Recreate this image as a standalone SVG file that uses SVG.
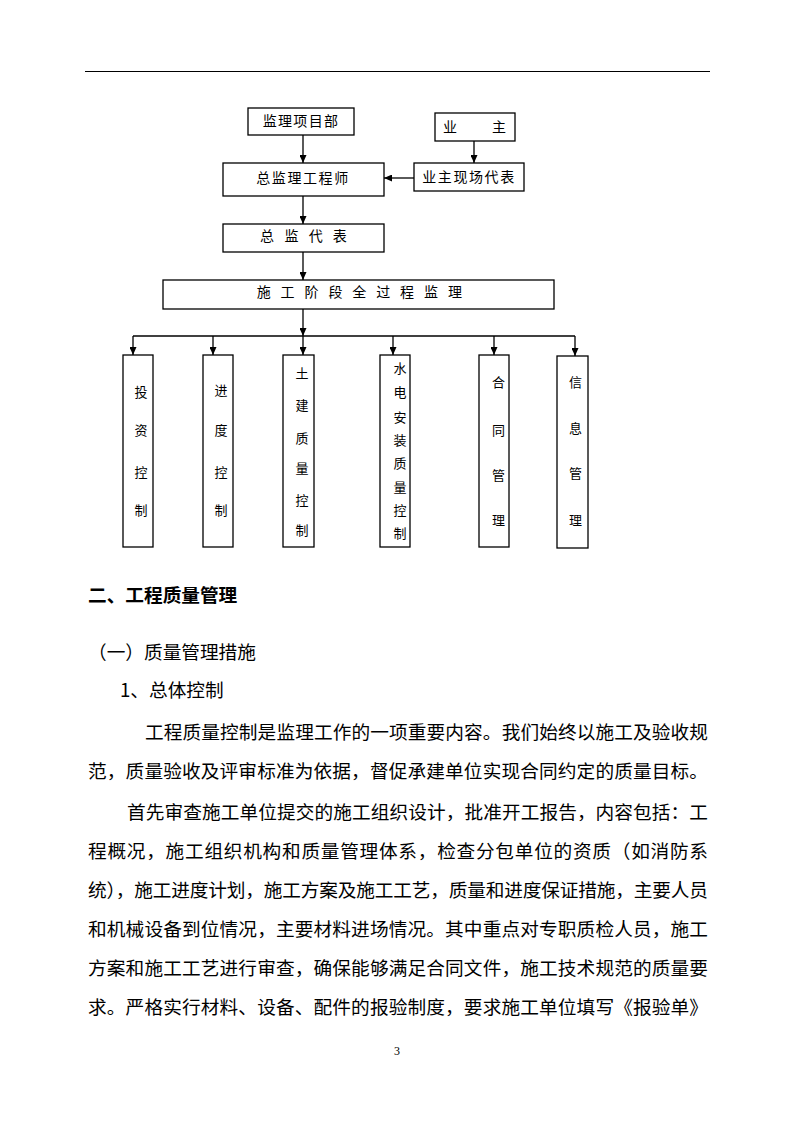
<svg xmlns="http://www.w3.org/2000/svg" width="794" height="1123" viewBox="0 0 794 1123">
<style>
.bx{fill:#fff;stroke:#000;stroke-width:1.3}
.ln{fill:none;stroke:#000;stroke-width:1.3}
.t{font-family:"Noto Sans CJK SC","Noto Sans",sans-serif;font-size:14px;fill:#000}
.tv{font-family:"Noto Sans CJK SC","Noto Sans",sans-serif;font-size:13px;fill:#000;text-anchor:middle}
.body{font-family:"Noto Sans CJK SC","Noto Sans",sans-serif;font-size:18.67px;fill:#000}
.h{font-family:"Noto Sans CJK SC","Noto Sans",sans-serif;font-size:18.67px;font-weight:bold;fill:#000}
.pn{font-family:"Liberation Serif",serif;font-size:12px;fill:#000;text-anchor:middle}
</style>
<defs>
<marker id="arr" markerUnits="userSpaceOnUse" markerWidth="8" markerHeight="7" refX="8" refY="3.5" orient="auto">
<path d="M0,0 L8,3.5 L0,7 z" fill="#000"/>
</marker>
</defs>
<rect width="794" height="1123" fill="#fff"/>
<line x1="85" y1="71.5" x2="710" y2="71.5" stroke="#000" stroke-width="1.2"/>

<g id="connectors">
<line class="ln" x1="303" y1="135" x2="303" y2="163" marker-end="url(#arr)"/>
<line class="ln" x1="474" y1="141" x2="474" y2="163" marker-end="url(#arr)"/>
<line class="ln" x1="414" y1="178" x2="384" y2="178" marker-end="url(#arr)"/>
<line class="ln" x1="303" y1="196" x2="303" y2="224" marker-end="url(#arr)"/>
<line class="ln" x1="303" y1="252" x2="303" y2="280" marker-end="url(#arr)"/>
<line class="ln" x1="303" y1="309" x2="303" y2="336" marker-end="url(#arr)"/>
<line class="ln" x1="133" y1="336" x2="575" y2="336"/>
<line class="ln" x1="133" y1="336" x2="133" y2="355" marker-end="url(#arr)"/>
<line class="ln" x1="213" y1="336" x2="213" y2="355" marker-end="url(#arr)"/>
<line class="ln" x1="303" y1="336" x2="303" y2="355" marker-end="url(#arr)"/>
<line class="ln" x1="393" y1="336" x2="393" y2="355" marker-end="url(#arr)"/>
<line class="ln" x1="494" y1="336" x2="494" y2="355" marker-end="url(#arr)"/>
<line class="ln" x1="575" y1="336" x2="575" y2="356" marker-end="url(#arr)"/>
</g>

<g id="n-jlxmb">
<rect class="bx" x="248" y="108" width="106" height="27"/>
<text class="t" x="301" y="126" text-anchor="middle" letter-spacing="1.3">监理项目部</text>
</g>
<g id="n-yz">
<rect class="bx" x="435" y="113" width="80" height="28"/>
<text class="t" x="443 492" y="132">业主</text>
</g>
<g id="n-zjlgcs">
<rect class="bx" x="223" y="163" width="161" height="33"/>
<text class="t" x="303" y="183" text-anchor="middle" letter-spacing="1.6">总监理工程师</text>
</g>
<g id="n-yzxcdb">
<rect class="bx" x="414" y="163" width="110" height="28"/>
<text class="t" x="469" y="182" text-anchor="middle" letter-spacing="1.6">业主现场代表</text>
</g>
<g id="n-zjdb">
<rect class="bx" x="223" y="224" width="161" height="28"/>
<text class="t" x="260 284.5 308.7 332.8" y="241">总监代表</text>
</g>
<g id="n-sgjd">
<rect class="bx" x="163" y="280" width="391" height="29"/>
<text class="t" x="256.7 280.6 304.5 328.4 352.3 376.2 400.1 424 447.9" y="297">施工阶段全过程监理</text>
</g>
<g id="n-tzkz">
<rect class="bx" x="123" y="355" width="30" height="192"/>
<text class="tv" x="141" y="397">投</text><text class="tv" x="141" y="435">资</text><text class="tv" x="141" y="477">控</text><text class="tv" x="141" y="515">制</text>
</g>
<g id="n-jdkz">
<rect class="bx" x="203" y="355" width="30" height="192"/>
<text class="tv" x="221" y="395">进</text><text class="tv" x="221" y="435">度</text><text class="tv" x="221" y="477">控</text><text class="tv" x="221" y="515">制</text>
</g>
<g id="n-tjzl">
<rect class="bx" x="283" y="355" width="31" height="192"/>
<text class="tv" x="302" y="378">土</text><text class="tv" x="302" y="410">建</text><text class="tv" x="302" y="443">质</text><text class="tv" x="302" y="473">量</text><text class="tv" x="302" y="505">控</text><text class="tv" x="302" y="535">制</text>
</g>
<g id="n-sdaz">
<rect class="bx" x="380" y="355" width="30" height="192"/>
<text class="tv" x="400" y="373">水</text><text class="tv" x="400" y="397">电</text><text class="tv" x="400" y="422">安</text><text class="tv" x="400" y="445">装</text><text class="tv" x="400" y="468">质</text><text class="tv" x="400" y="492">量</text><text class="tv" x="400" y="515">控</text><text class="tv" x="400" y="538">制</text>
</g>
<g id="n-htgl">
<rect class="bx" x="479" y="355" width="30" height="192"/>
<text class="tv" x="498.5" y="387">合</text><text class="tv" x="498.5" y="435">同</text><text class="tv" x="498.5" y="480">管</text><text class="tv" x="498.5" y="525">理</text>
</g>
<g id="n-xxgl">
<rect class="bx" x="557" y="356" width="31" height="192"/>
<text class="tv" x="575.5" y="387">信</text><text class="tv" x="575.5" y="433">息</text><text class="tv" x="575.5" y="478">管</text><text class="tv" x="575.5" y="525">理</text>
</g>

<g id="body">
<text class="h" x="88" y="602">二、工程质量管理</text>
<text class="body" x="88" y="659">（一）质量管理措施</text>
<text class="body" x="120" y="697">1、总体控制</text>
<text class="body" x="145" y="739" textLength="563" lengthAdjust="spacing">工程质量控制是监理工作的一项重要内容。我们始终以施工及验收规</text>
<text class="body" x="88" y="778" textLength="620" lengthAdjust="spacing">范，质量验收及评审标准为依据，督促承建单位实现合同约定的质量目标。</text>
<text class="body" x="127" y="819" textLength="581" lengthAdjust="spacing">首先审查施工单位提交的施工组织设计，批准开工报告，内容包括：工</text>
<text class="body" x="88" y="858" textLength="620" lengthAdjust="spacing">程概况，施工组织机构和质量管理体系，检查分包单位的资质（如消防系</text>
<text class="body" x="88" y="897" textLength="620" lengthAdjust="spacing">统），施工进度计划，施工方案及施工工艺，质量和进度保证措施，主要人员</text>
<text class="body" x="88" y="936" textLength="620" lengthAdjust="spacing">和机械设备到位情况，主要材料进场情况。其中重点对专职质检人员，施工</text>
<text class="body" x="88" y="975" textLength="620" lengthAdjust="spacing">方案和施工工艺进行审查，确保能够满足合同文件，施工技术规范的质量要</text>
<text class="body" x="88" y="1014" textLength="620" lengthAdjust="spacing">求。严格实行材料、设备、配件的报验制度，要求施工单位填写《报验单》</text>
<text class="pn" x="397" y="1055">3</text>
</g>
</svg>
